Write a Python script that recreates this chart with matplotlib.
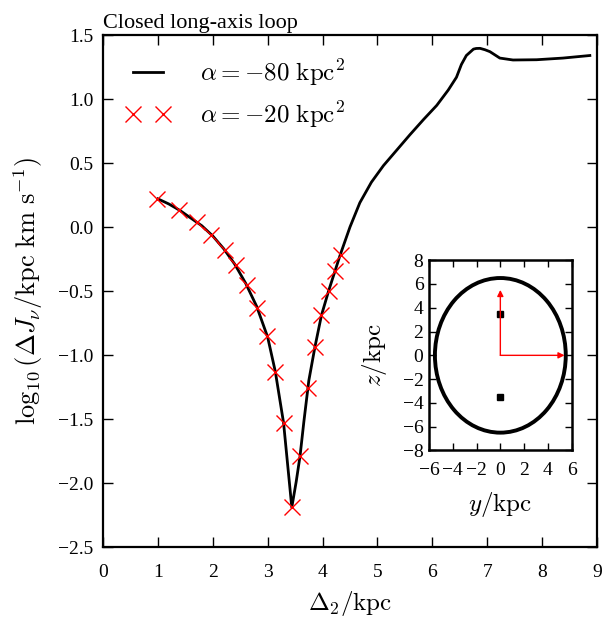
import matplotlib
matplotlib.use("Agg")
import matplotlib.pyplot as plt
from matplotlib.patches import Ellipse

plt.rcParams["font.family"] = ["Liberation Serif", "DejaVu Serif"]
plt.rcParams["mathtext.fontset"] = "cm"
plt.rcParams["axes.unicode_minus"] = True

# alpha = -80 kpc^2 : continuous curve
line_x = [1.00, 1.20, 1.40, 1.60, 1.80, 2.00, 2.20, 2.40, 2.60, 2.80, 3.00,
          3.14, 3.29, 3.44, 3.52, 3.59, 3.66, 3.75, 3.86, 3.98, 4.11, 4.23,
          4.32, 4.50, 4.68, 4.89, 5.11, 5.35, 5.59, 5.84, 6.08, 6.29, 6.44,
          6.53, 6.62, 6.75, 6.80, 6.87, 6.96, 7.05, 7.23, 7.47, 7.90, 8.38,
          8.87]
line_y = [0.22, 0.18, 0.13, 0.07, 0.01, -0.07, -0.17, -0.29, -0.44, -0.62,
          -0.86, -1.13, -1.53, -2.19, -1.99, -1.79, -1.52, -1.20, -0.94,
          -0.69, -0.50, -0.34, -0.22, 0.00, 0.19, 0.35, 0.48, 0.60, 0.72,
          0.84, 0.95, 1.07, 1.17, 1.27, 1.34, 1.39, 1.395, 1.396, 1.385,
          1.37, 1.32, 1.305, 1.307, 1.32, 1.34]

# alpha = -20 kpc^2 : sampled points
pts_x = [0.98, 1.39, 1.72, 1.97, 2.22, 2.42, 2.62, 2.80, 2.98, 3.14, 3.29,
         3.44, 3.59, 3.73, 3.86, 3.98, 4.11, 4.23, 4.34]
pts_y = [0.22, 0.13, 0.04, -0.06, -0.18, -0.30, -0.45, -0.63, -0.85, -1.13,
         -1.53, -2.19, -1.79, -1.26, -0.94, -0.69, -0.50, -0.34, -0.22]

# inset: orbit in the (y, z) plane
orbit_a, orbit_b = 5.5, 6.5
arrow_tips = [(0.0, 5.5), (5.4, 0.0)]
foci_y = [0.0, 0.0]
foci_z = [3.5, -3.5]

fig = plt.figure(figsize=(6.03, 6.19), dpi=100)
ax = fig.add_axes([0.1708, 0.1163, 0.8192, 0.8271])

ax.plot(line_x, line_y, color="k", lw=2, solid_joinstyle="round",
        label=r"$\alpha=-80\ \mathrm{kpc}^2$")
ax.plot(pts_x, pts_y, ls="", marker="x", ms=12, mew=1, color="r",
        label=r"$\alpha=-20\ \mathrm{kpc}^2$")

ax.set_xlim(0, 9)
ax.set_ylim(-2.5, 1.5)
ax.set_xticks(range(10))
ax.set_yticks([-2.5, -2.0, -1.5, -1.0, -0.5, 0.0, 0.5, 1.0, 1.5])
ax.set_yticklabels([f"{v:.1f}".replace("-", "\u2212") for v in ax.get_yticks()])
ax.tick_params(direction="in", top=True, right=True, length=7, width=1,
               labelsize=14)
ax.tick_params(axis="x", pad=12)
ax.tick_params(axis="y", pad=7)
for s in ax.spines.values():
    s.set_linewidth(1.6)
ax.set_xlabel(r"$\Delta_2/\mathrm{kpc}$", fontsize=18, labelpad=6)
ax.set_ylabel(r"$\log_{10}(\Delta J_\nu/\mathrm{kpc\ km\ s}^{-1})$",
              fontsize=19, labelpad=9)
ax.set_title("Closed long-axis loop", loc="left", fontsize=16, pad=5)
ax.legend(loc="upper left", frameon=False, fontsize=18, numpoints=2,
          handlelength=1.8, handletextpad=1.2, labelspacing=0.45,
          borderaxespad=0.5)

ins = fig.add_axes([0.7114, 0.2719, 0.2367, 0.3081])
ins.add_patch(Ellipse((0, 0), 2 * orbit_a, 2 * orbit_b, fill=False,
                      lw=2.8, color="k"))
for tip in arrow_tips:
    ins.annotate("", xy=tip, xytext=(0, 0),
                 arrowprops=dict(arrowstyle="-|>", color="r", lw=1,
                                 mutation_scale=9, shrinkA=0, shrinkB=0))
ins.plot(foci_y, foci_z, ls="", marker="s", ms=4, color="k")
ins.set_xlim(-6, 6)
ins.set_ylim(-8, 8)
ins.set_aspect("equal")
ins.set_xticks(range(-6, 7, 2))
ins.set_yticks(range(-8, 9, 2))
ins.tick_params(direction="in", top=True, right=True, length=5, width=1,
                labelsize=14)
ins.tick_params(axis="x", pad=8)
ins.tick_params(axis="y", pad=4)
for s in ins.spines.values():
    s.set_linewidth(1.8)
ins.set_xlabel(r"$y/\mathrm{kpc}$", fontsize=18, labelpad=8)
ins.set_ylabel(r"$z/\mathrm{kpc}$", fontsize=18, labelpad=10)

fig.savefig("out.png", dpi=100)
